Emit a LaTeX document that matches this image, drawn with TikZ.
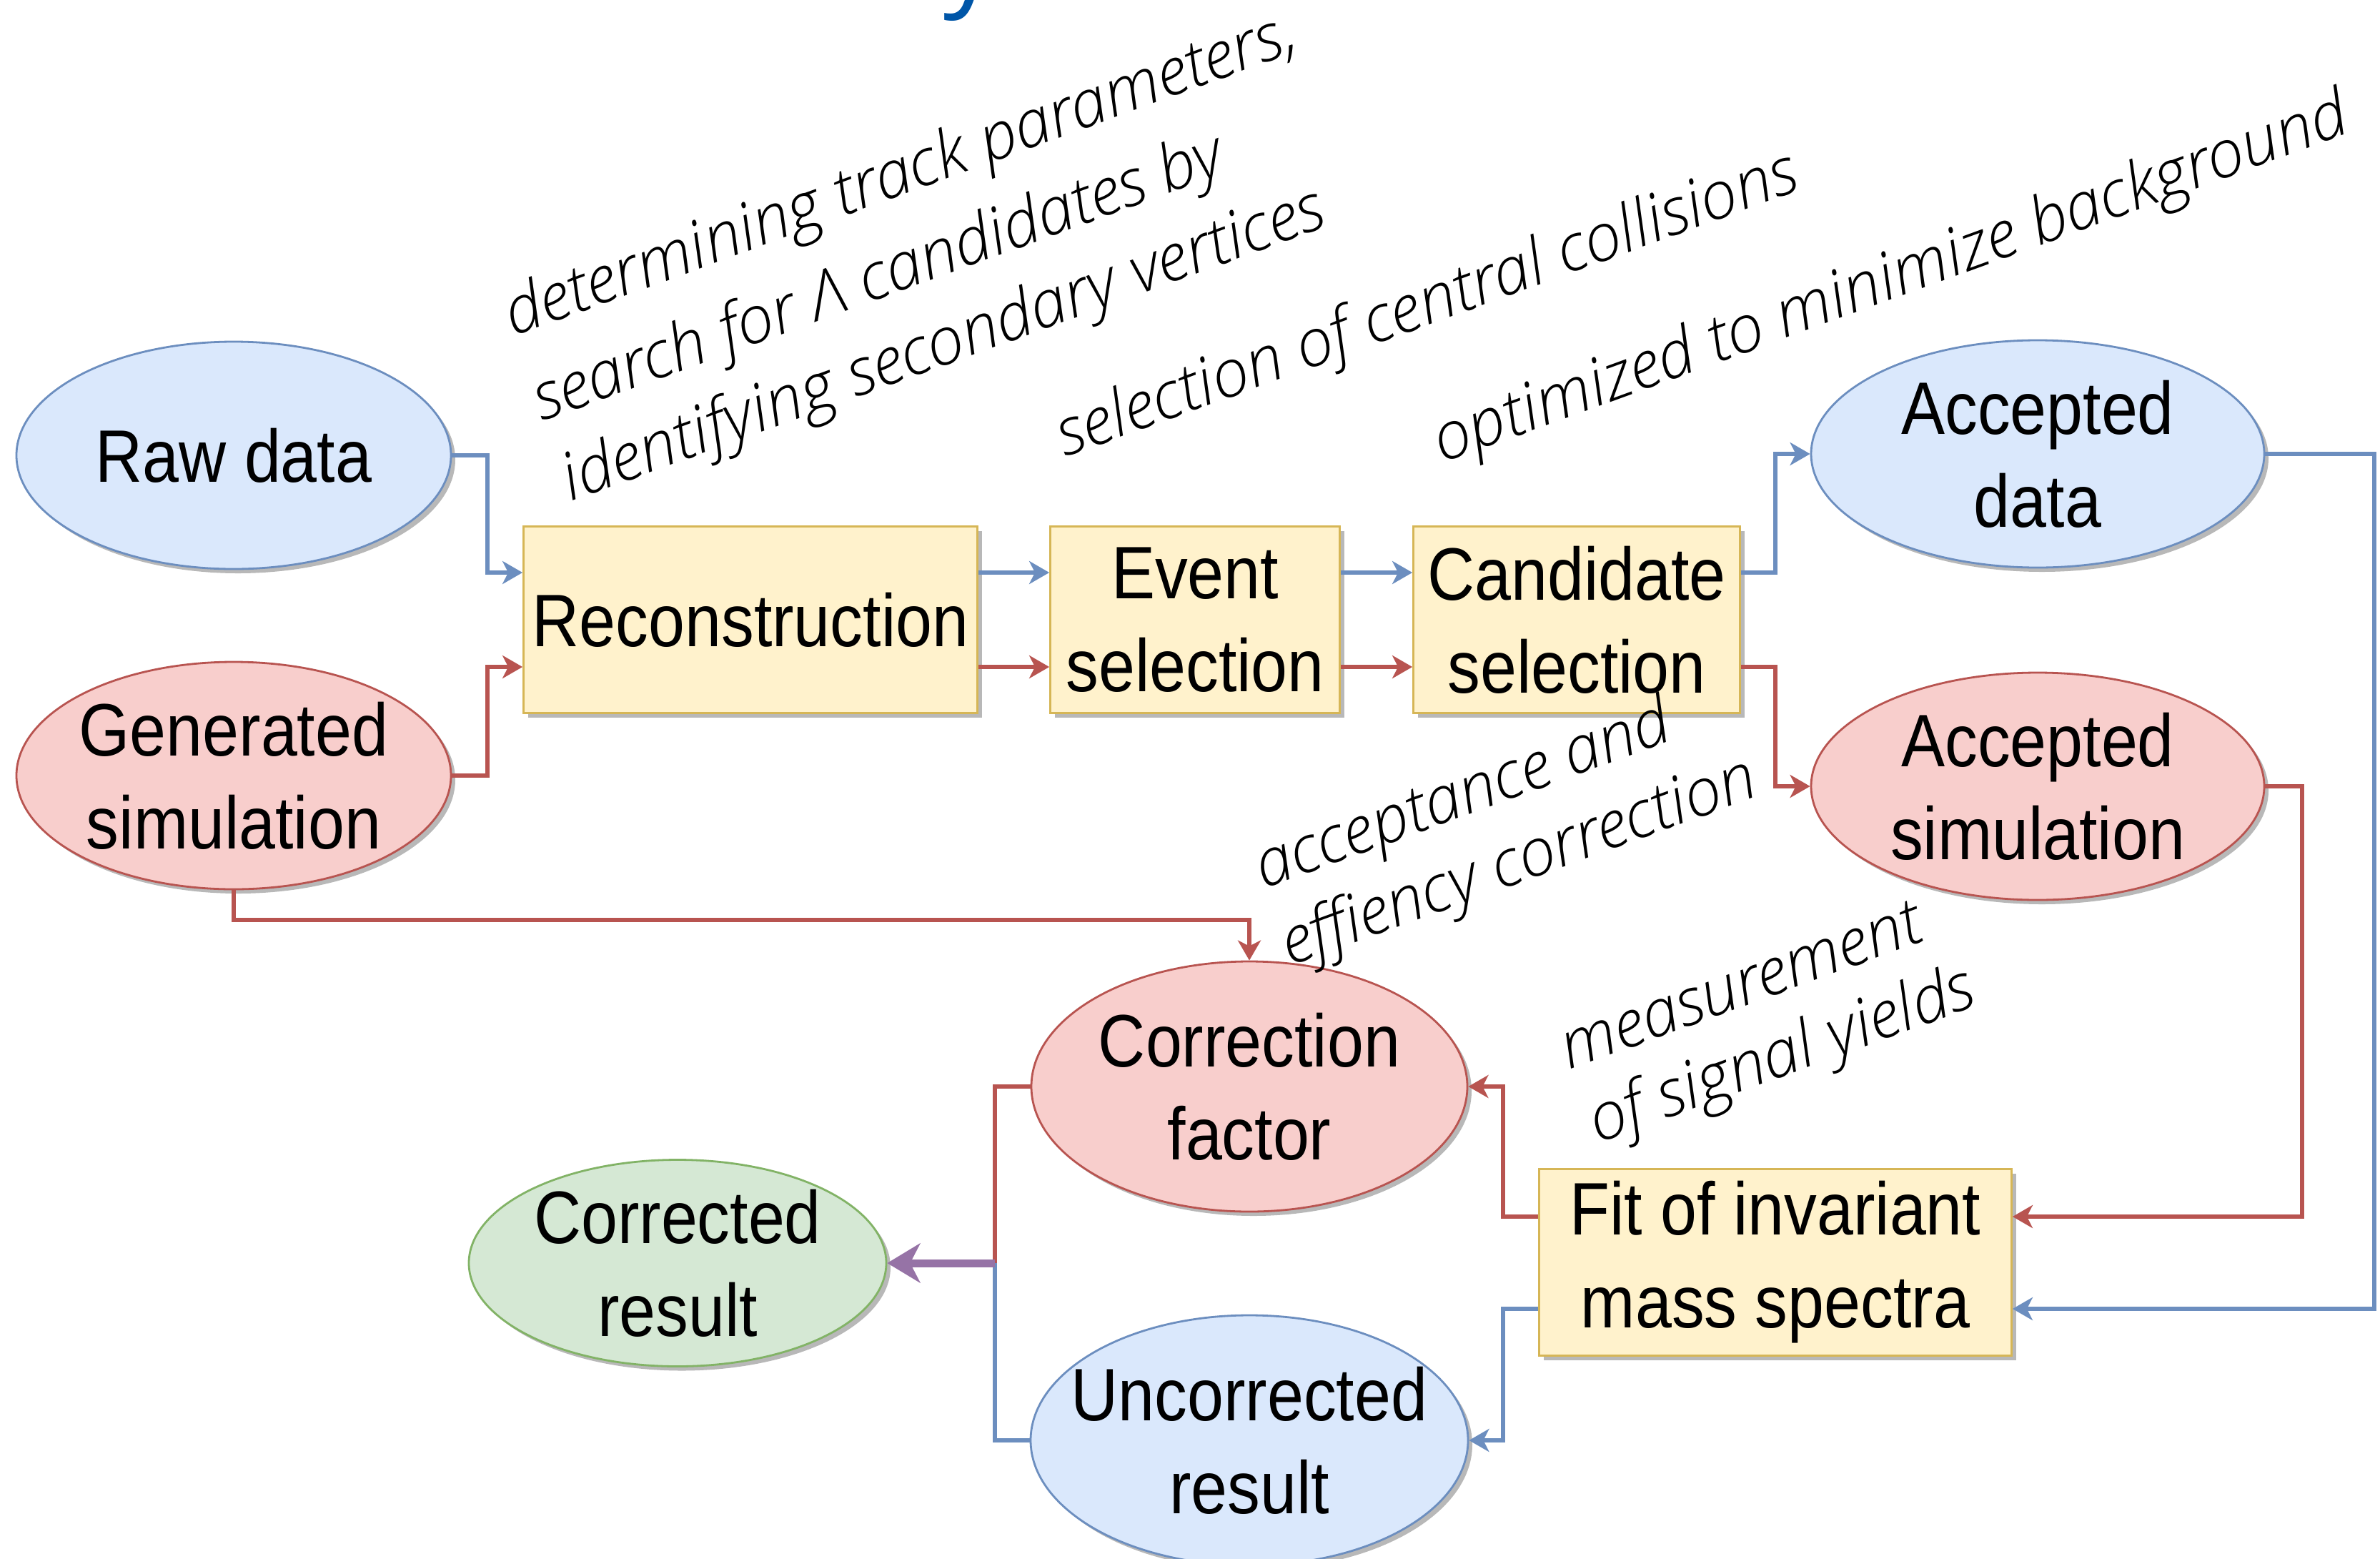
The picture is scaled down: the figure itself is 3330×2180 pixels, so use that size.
\documentclass[tikz,border=0pt]{standalone}
\usepackage{fontspec}
\usetikzlibrary{shapes.geometric,arrows.meta,shadows}
\newfontfamily\nodefont{Liberation Sans}[FakeStretch=0.88]
\newfontfamily\titlefont{Open Sans}
\IfFontExistsTF{Open Sans Light Italic}
  {\newfontfamily\annbase{Open Sans Light Italic}\newcommand\annfont{\annbase}}
  {\newfontfamily\annbase{Open Sans}\newcommand\annfont{\annbase\itshape}}
\definecolor{bfill}{HTML}{DAE8FC}\definecolor{bdraw}{HTML}{6C8EBF}
\definecolor{rfill}{HTML}{F8CECC}\definecolor{rdraw}{HTML}{B85450}
\definecolor{yfill}{HTML}{FFF2CC}\definecolor{ydraw}{HTML}{D6B656}
\definecolor{gfill}{HTML}{D5E8D4}\definecolor{gdraw}{HTML}{82B366}
\definecolor{pdraw}{HTML}{9673A6}
\definecolor{titleblue}{HTML}{0056A8}
\begin{document}
\begin{tikzpicture}[x=1pt,y=-1pt,
  shd/.style={drop shadow={shadow xshift=6pt,shadow yshift=-6pt,opacity=0.28,fill=black}},
  ell/.style={ellipse,shd,line width=2.8pt,inner xsep=-60pt,inner ysep=-40pt,align=center,
    font=\nodefont\fontsize{104}{130}\selectfont},
  bluenode/.style={ell,fill=bfill,draw=bdraw,minimum width=608pt,minimum height=318pt},
  rednode/.style={ell,fill=rfill,draw=rdraw,minimum width=608pt,minimum height=318pt},
  greennode/.style={ell,fill=gfill,draw=gdraw},
  boxnode/.style={rectangle,shd,fill=yfill,draw=ydraw,line width=2.8pt,minimum height=261pt,
    inner sep=0pt,align=center,font=\nodefont\fontsize{104}{130}\selectfont},
  conn/.style={line width=5.5pt,-{Stealth[length=28pt,width=32pt,inset=8pt]}},
  bconn/.style={conn,draw=bdraw},
  rconn/.style={conn,draw=rdraw},
  pconn/.style={line width=11pt,draw=pdraw,-{Stealth[length=46pt,width=55pt,inset=14pt]}},
  bline/.style={line width=5.5pt,draw=bdraw},
  rline/.style={line width=5.5pt,draw=rdraw},
  ann/.style={anchor=base west,inner sep=0pt,rotate=20,
    font=\annfont\fontsize{92}{124}\selectfont},
]
\useasboundingbox (0,0) rectangle (3330,2180);
\fill[white] (0,0) rectangle (3330,2180);
\begin{scope}
\clip (0,0) rectangle (3330,2180);

% title fragment
\node[anchor=base,inner sep=0pt,text=titleblue,font=\titlefont\fontsize{150}{150}\selectfont] (ttl) at (1358,-7) {y};

% nodes
\node[bluenode] (raw) at (327,637) {Raw data};
\node[rednode] (gen) at (327,1085) {Generated\\simulation};
\node[boxnode,minimum width=635pt] (recon) at (1050,867) {Reconstruction};
\node[boxnode,minimum width=405pt] (evsel) at (1672,867) {Event\\selection};
\node[boxnode,minimum width=457pt] (cansel) at (2206,867) {Candidate\\selection};
\node[bluenode,minimum width=634pt] (accdata) at (2851,635) {Accepted\\data};
\node[rednode,minimum width=634pt] (accsim) at (2851,1100) {Accepted\\simulation};
\node[rednode,minimum width=610pt,minimum height=350pt] (corr) at (1748,1520) {Correction\\factor};
\node[greennode,minimum width=584pt,minimum height=289pt] (corrres) at (948,1767) {Corrected\\result};
\node[boxnode,minimum width=661pt] (fit) at (2484,1766) {Fit of invariant\\mass spectra};
\node[bluenode,minimum width=612pt,minimum height=350pt] (uncorr) at (1748,2015) {Uncorrected\\result};

% connectors
\draw[bconn] (raw.east) -| (682,801) -- (recon.west |- 0,801);
\draw[rconn] (gen.east) -| (682,933) -- (recon.west |- 0,933);
\draw[bconn] (recon.east |- 0,801) -- (evsel.west |- 0,801);
\draw[rconn] (recon.east |- 0,933) -- (evsel.west |- 0,933);
\draw[bconn] (evsel.east |- 0,801) -- (cansel.west |- 0,801);
\draw[rconn] (evsel.east |- 0,933) -- (cansel.west |- 0,933);
\draw[bconn] (cansel.east |- 0,801) -| (2484,635) -- (accdata.west);
\draw[rconn] (cansel.east |- 0,933) -| (2484,1100) -- (accsim.west);
\draw[bconn] (accdata.east) -| (3322,1831) -- (fit.east |- 0,1831);
\draw[rconn] (accsim.east) -| (3221,1702) -- (fit.east |- 0,1702);
\draw[rconn] (fit.west |- 0,1702) -| (2103,1520) -- (corr.east);
\draw[bconn] (fit.west |- 0,1831) -| (2103,2015) -- (uncorr.east);
\draw[rconn] (gen.south) |- (1748,1287) -- (corr.north);
\coordinate (junc) at (1392,1767);
\draw[rline] (corr.west) -| (junc);
\draw[bline] (uncorr.west) -| (junc);
\draw[pconn] (junc) -- (corrres.east);

% annotations
\begin{scope}[shift={(718,471)}]\node[ann] (a1) {determining track parameters,};\end{scope}
\begin{scope}[shift={(758,590)}]\node[ann] (a2) {search for Λ candidates by};\end{scope}
\begin{scope}[shift={(798,702)}]\node[ann] (a3) {identifying secondary vertices};\end{scope}
\begin{scope}[shift={(1490,640)}]\node[ann] (a4) {selection of central collisions};\end{scope}
\begin{scope}[shift={(2018,648)}]\node[ann] (a5) {optimized to minimize background};\end{scope}
\begin{scope}[shift={(1768,1244)}]\node[ann] (a6) {acceptance and};\end{scope}
\begin{scope}[shift={(1805,1352)}]\node[ann] (a7) {effiency correction};\end{scope}
\begin{scope}[shift={(2195,1497)}]\node[ann] (a8) {measurement};\end{scope}
\begin{scope}[shift={(2236,1600)}]\node[ann] (a9) {of signal yields};\end{scope}
\end{scope}
\end{tikzpicture}
\end{document}
